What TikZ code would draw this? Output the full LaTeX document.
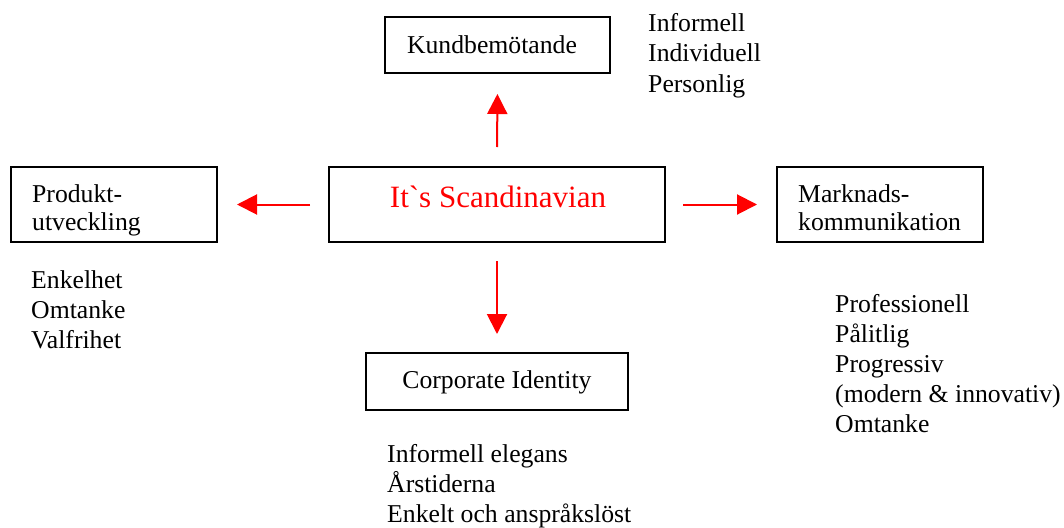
\documentclass[tikz,border=0pt]{standalone}
\usepackage{fontspec}
% no TeX input mapping, so the grave accent stays a plain grave accent
\setmainfont{Liberation Serif}[Ligatures=TeXOff]
\usetikzlibrary{arrows.meta}
\definecolor{arrowred}{RGB}{255,0,0}
\begin{document}
\begin{tikzpicture}[x=1pt,y=-1pt,
  box/.style={draw=black,line width=2pt,rectangle,inner sep=0pt},
  lbl/.style={anchor=base west,inner sep=0pt,font=\fontsize{25.7}{30}\selectfont},
  link/.style={draw=arrowred,line width=2pt,-{Triangle[length=20pt,width=20pt]}}
]
\useasboundingbox (0,0) rectangle (1064,527);

% boxes
\node[box,minimum width=336pt,minimum height=75pt] (centre) at (497,204.5) {};
\node[box,minimum width=225pt,minimum height=56pt] (kund) at (497.5,45) {};
\node[box,minimum width=206pt,minimum height=75pt] (produkt) at (114,204.5) {};
\node[box,minimum width=206pt,minimum height=75pt] (marknad) at (880,204.5) {};
\node[box,minimum width=262pt,minimum height=57pt] (corp) at (497,381.5) {};

% box texts
\node[anchor=base,inner sep=0pt,text=arrowred,font=\fontsize{31}{36}\selectfont] (centretext) at (498,207) {It`s Scandinavian};
\node[anchor=base,inner sep=0pt,font=\fontsize{25.7}{30}\selectfont] (kundtext) at (492,53) {Kundbemötande};
\node[lbl] (produkt1) at (32,202) {Produkt-};
\node[lbl] (produkt2) at (32,230) {utveckling};
\node[lbl] (marknad1) at (798,202) {Marknads-};
\node[lbl] (marknad2) at (798,230) {kommunikation};
\node[anchor=base,inner sep=0pt,font=\fontsize{25.7}{30}\selectfont] (corptext) at (497,388) {Corporate Identity};

% attribute lists
\node[lbl] (k1) at (648,32) {Informell};
\node[lbl] (k2) at (648,62) {Individuell};
\node[lbl] (k3) at (648,92) {Personlig};

\node[lbl] (p1) at (31,288) {Enkelhet};
\node[lbl] (p2) at (31,318) {Omtanke};
\node[lbl] (p3) at (31,348) {Valfrihet};

\node[lbl] (m1) at (835,312) {Professionell};
\node[lbl] (m2) at (835,342) {Pålitlig};
\node[lbl] (m3) at (835,372) {Progressiv};
\node[lbl] (m4) at (835,402) {(modern \& innovativ)};
\node[lbl] (m5) at (835,432) {Omtanke};

\node[lbl] (c1) at (387,462) {Informell elegans};
\node[lbl] (c2) at (387,492) {Årstiderna};
\node[lbl] (c3) at (387,522) {Enkelt och anspråkslöst};

% arrows
\draw[link,shorten <=19pt,shorten >=20pt] (centre.north) -- (kund.south);
\draw[link,shorten <=18pt,shorten >=19pt] (centre.west) -- (produkt.east);
\draw[link,shorten <=17pt,shorten >=19pt] (centre.east) -- (marknad.west);
\draw[link,shorten <=18pt,shorten >=18pt] (centre.south) -- (corp.north);
\end{tikzpicture}
\end{document}
